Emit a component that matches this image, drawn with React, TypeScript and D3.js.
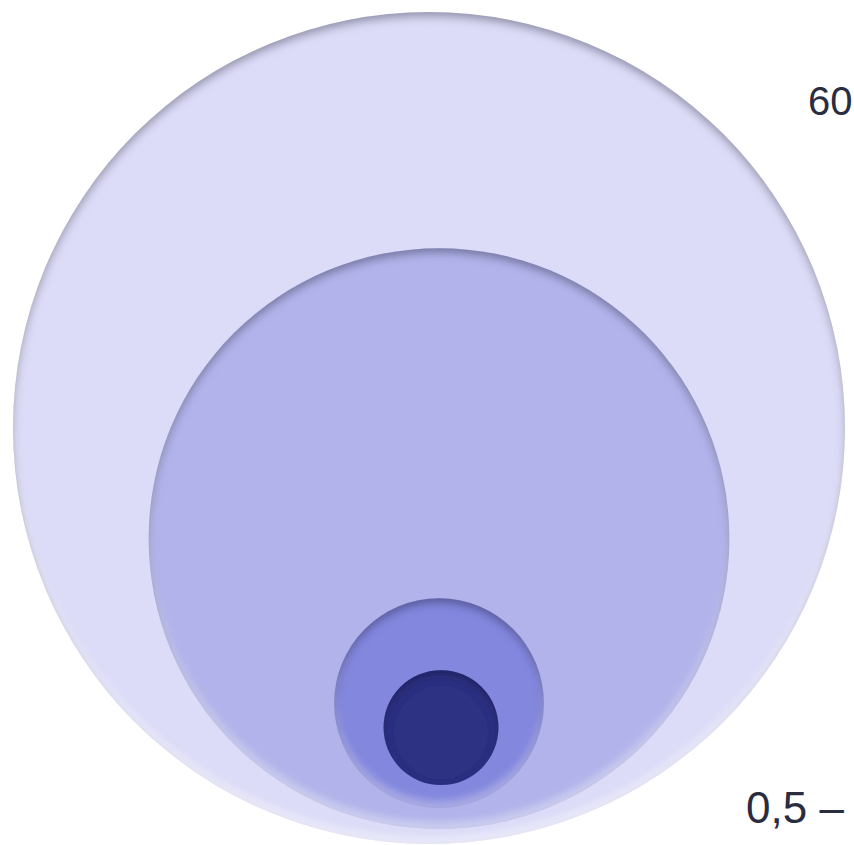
import React from "react";
import * as d3 from "d3";

// Nested size classes, outermost first (relative diameters)
const classes = ["outer", "large", "medium", "small"];
const diameters = [100, 69.8, 25.2, 13.8];
const fills = ["#dcdcf8", "#b1b3ea", "#8387de", "#2e3182"];
const glow = [0.45, 0.35, 0.25, 0];
// Gap kept between the bottom of each circle and the bottom of its parent
const bottomGaps = [0, 15, 21, 23];
const shiftX = [0, 10, 0, 2];

const labelTexts = ["60", "0,5 –", "1,0 мкм"];

const W = 854;
const H = 845;

function InsetFilter({ id, highlight }: { id: string; highlight: number }) {
  return (
    <filter id={id} x="-10%" y="-10%" width="120%" height="120%">
      <feComponentTransfer in="SourceAlpha" result="inv">
        <feFuncA type="table" tableValues="1 0" />
      </feComponentTransfer>
      <feGaussianBlur in="inv" stdDeviation="4" result="invBlur" />
      <feOffset in="invBlur" dy="5" result="shOff" />
      <feFlood floodColor="#1c1c48" floodOpacity="0.6" />
      <feComposite in2="shOff" operator="in" />
      <feComposite in2="SourceAlpha" operator="in" result="shadow" />
      <feOffset in="invBlur" dy="-6" result="hlOff" />
      <feFlood floodColor="#ffffff" floodOpacity={highlight} />
      <feComposite in2="hlOff" operator="in" />
      <feComposite in2="SourceAlpha" operator="in" result="highlight" />
      <feMerge>
        <feMergeNode in="SourceGraphic" />
        <feMergeNode in="highlight" />
        <feMergeNode in="shadow" />
      </feMerge>
    </filter>
  );
}

export default function App() {
  const r = d3.scaleLinear().domain([0, 100]).range([0, 416]);

  // Lay the circles out, each resting near the bottom of the one before it
  const circles: { cx: number; cy: number; r: number; fill: string; key: string }[] = [];
  diameters.forEach((d, i) => {
    const rad = r(d);
    if (i === 0) {
      circles.push({ cx: 429, cy: 428, r: rad, fill: fills[i], key: classes[i] });
    } else {
      const p = circles[i - 1];
      const bottom = p.cy + p.r - bottomGaps[i];
      circles.push({ cx: p.cx + shiftX[i], cy: bottom - rad, r: rad, fill: fills[i], key: classes[i] });
    }
  });

  return (
    <svg
      width={W}
      height={H}
      style={{ position: "absolute", left: 0, top: 0, background: "#fff" }}
    >
      <defs>
        {classes.map((k, i) => (
          <InsetFilter key={k} id={`inset-${k}`} highlight={glow[i]} />
        ))}
      </defs>
      {circles.map((c) => (
        <circle key={c.key} cx={c.cx} cy={c.cy} r={c.r} fill={c.fill} filter={`url(#inset-${c.key})`} />
      ))}
      <g fontFamily="'Liberation Sans', Arial, sans-serif" fill="#2a2c40">
        <text x={808} y={115} fontSize={40}>{labelTexts[0]}</text>
        <text x={746} y={823} fontSize={44}>{labelTexts[1]}</text>
        <text x={746} y={877} fontSize={44}>{labelTexts[2]}</text>
      </g>
    </svg>
  );
}
